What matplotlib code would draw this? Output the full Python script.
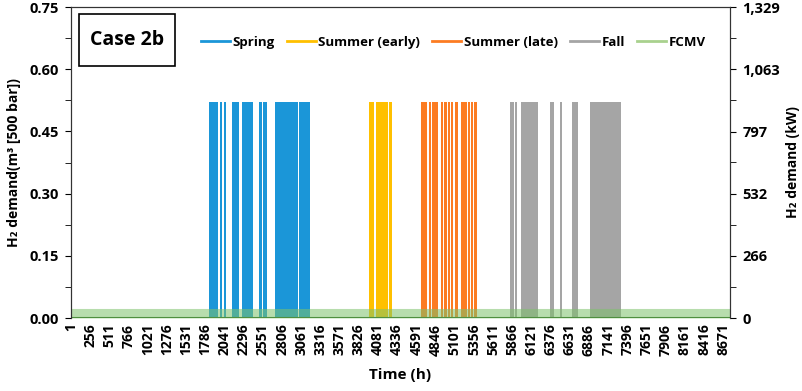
import numpy as np
import matplotlib
matplotlib.use("Agg")
import matplotlib.pyplot as plt
from matplotlib.lines import Line2D
from matplotlib.patches import Rectangle
from matplotlib.ticker import FuncFormatter

plt.rcParams['font.family'] = ['Open Sans', 'DejaVu Sans']
plt.rcParams['font.weight'] = 'bold'

# operating windows (start hour, end hour)
spring_start = [1833, 1975, 2028, 2135, 2275, 2506, 2559, 2706, 3028]
spring_end = [1949, 2002, 2059, 2236, 2417, 2533, 2612, 3015, 3184]
early_start = [3958, 4055, 4223]
early_end = [4024, 4210, 4267]
late_start = [4652, 4758, 4798, 4918, 4963, 5007, 5056, 5099, 5183, 5272, 5312, 5361]
late_end = [4737, 4785, 4878, 4944, 4993, 5037, 5082, 5143, 5259, 5299, 5342, 5401]
fall_start = [5830, 5905, 5976, 6374, 6497, 6657, 6901]
fall_end = [5883, 5926, 6206, 6427, 6524, 6742, 7307]

peak_demand = 0.52      # m3 [500 bar]
fcmv_demand = 0.023
hours_total = 8760
xtick_vals = list(range(1, 8672, 255))
left_ticks = [0.0, 0.15, 0.30, 0.45, 0.60, 0.75]
right_ticks = [0, 266, 532, 797, 1063, 1329]

seasons = [
    ("Spring", spring_start, spring_end, "#1B96D8"),
    ("Summer (early)", early_start, early_end, "#FFC000"),
    ("Summer (late)", late_start, late_end, "#FC7C22"),
    ("Fall", fall_start, fall_end, "#A5A5A5"),
]

fig = plt.figure(figsize=(8.03, 3.91), dpi=100)
ax = fig.add_axes([0.0884, 0.1867, 0.8207, 0.7953])

for name, st, en, col in seasons:
    st = np.array(st)
    en = np.array(en)
    ax.bar(st, [peak_demand] * len(st), width=en - st, align='edge',
           color=col, edgecolor='none', linewidth=0)

hours = np.arange(0, hours_total + 1)
ax.fill_between(hours, 0, fcmv_demand, color='#7CC26A', alpha=0.55, linewidth=0)
ax.axhline(0, color='#4F8F3F', lw=1.5)

ax.set_xlim(0.5, hours_total + 0.5)
ax.set_ylim(0, 0.75)
ax.set_yticks(left_ticks)
ax.set_yticks([0.075, 0.225, 0.375, 0.525, 0.675], minor=True)
ax.yaxis.set_major_formatter(FuncFormatter(lambda v, p: f"{v:.2f}"))
ax.tick_params(axis='y', which='both', direction='out', length=4, labelsize=10.5, pad=5)
ax.set_xticks(xtick_vals)
ax.set_xticklabels([str(v) for v in xtick_vals], rotation=90, fontsize=10, fontweight='bold')
ax.tick_params(axis='x', length=0, pad=4)
for s in ['left', 'right', 'top']:
    ax.spines[s].set_color('#333333')
ax.spines['bottom'].set_visible(False)

ax.set_ylabel("H₂ demand(m³ [500 bar])", fontsize=10, fontweight='bold', labelpad=6)
ax.set_xlabel("Time (h)", fontsize=11, fontweight='bold', labelpad=9)

ax2 = ax.twinx()
ax2.set_ylim(0, 1329)
ax2.set_yticks(right_ticks)
ax2.set_yticks([133, 399, 665, 930, 1196], minor=True)
ax2.yaxis.set_major_formatter(FuncFormatter(lambda v, p: f"{int(v):,}"))
ax2.tick_params(axis='y', which='both', direction='out', length=4, labelsize=10.5, pad=5)
ax2.set_ylabel("H₂ demand (kW)", fontsize=10, fontweight='bold', labelpad=4)
ax2.spines['bottom'].set_visible(False)
for s in ['left', 'right', 'top']:
    ax2.spines[s].set_color('#333333')

handles = [Line2D([0], [0], color=c, lw=2) for _, _, _, c in seasons]
handles.append(Line2D([0], [0], color='#A9D18E', lw=2))
labels = [n for n, _, _, _ in seasons] + ["FCMV"]
ax.legend(handles, labels, loc='center', bbox_to_anchor=(0.58, 0.887), ncol=5,
          frameon=False, fontsize=9.5, handlelength=2.2, handletextpad=0.2,
          columnspacing=0.9)

ax.add_patch(Rectangle((0.012, 0.81), 0.146, 0.167, transform=ax.transAxes,
                       fill=False, edgecolor='black', lw=1.2))
ax.text(0.085, 0.894, "Case 2b", transform=ax.transAxes, ha='center', va='center',
        fontsize=14, fontweight='bold')

fig.savefig("out.png", dpi=100)
